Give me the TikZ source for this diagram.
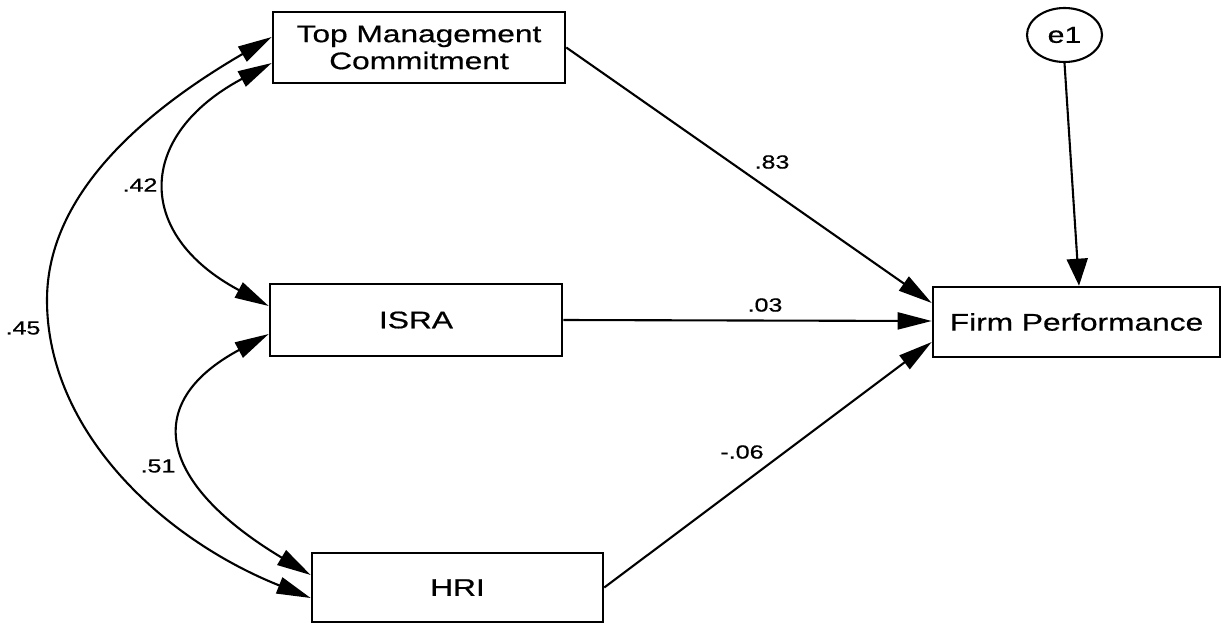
\documentclass[tikz,border=0pt]{standalone}
\usepackage{fontspec}
\setmainfont{Liberation Sans}[FakeStretch=1.32,FakeBold=0.6]
\usetikzlibrary{arrows.meta,calc,shapes.geometric}
\begin{document}
\begin{tikzpicture}[x=1pt,y=-1pt,
  box/.style={draw,line width=2.6pt,inner sep=0pt,font=\fontsize{24}{27}\selectfont,align=center},
  lbl/.style={inner sep=0pt,font=\fontsize{19}{20}\selectfont},
  arr/.style={line width=2.1pt,-{Triangle[length=34pt,width=17pt]}},
  dbl/.style={line width=2.1pt,{Triangle[length=34pt,width=17pt]}-{Triangle[length=34pt,width=17pt]}},
  varr/.style={line width=2.1pt,-{Triangle[length=27pt,width=21pt]}},
]
\useasboundingbox (0,0) rectangle (1222,624);

% nodes
\node[box,minimum width=292pt,minimum height=71pt] (tmc) at (419,47.5) {Top Management\\Commitment};
\node[box,minimum width=292pt,minimum height=72pt] (isra) at (416,320) {ISRA};
\node[box,minimum width=291pt,minimum height=69pt] (hri) at (457.5,587.5) {HRI};
\node[box,minimum width=287pt,minimum height=70pt] (fp) at (1076.5,322) {Firm Performance};
\node[draw,ellipse,line width=2.1pt,inner sep=0pt,minimum width=75pt,minimum height=54pt,font=\fontsize{23}{25}\selectfont] (e1) at (1064.5,35) {e1};

% anchor points
\coordinate (tmcA) at ($(tmc.west)+(0,-10.5)$);
\coordinate (tmcB) at ($(tmc.west)+(0,15.5)$);
\coordinate (israA) at ($(isra.west)+(0,-14)$);
\coordinate (israB) at ($(isra.west)+(0,14)$);
\coordinate (hriA) at ($(hri.west)+(0,-12.5)$);
\coordinate (hriB) at ($(hri.west)+(0,10.5)$);
\coordinate (fpA) at ($(fp.west)+(0,-19)$);
\coordinate (fpB) at ($(fp.west)+(0,-1)$);
\coordinate (fpC) at ($(fp.west)+(0,20)$);
\coordinate (fpTop) at ($(fp.north)+(2.5,0)$);
\coordinate (m45) at (47,300);

% paths to firm performance
\draw[arr] (tmc.east) -- (fpA);
\draw[arr] (isra.east) -- (fpB);
\draw[arr] (hri.east) -- (fpC);
\draw[varr] (e1.south) -- (fpTop);

% covariances
\draw[dbl] (tmcB) .. controls ($(tmcB)+(-135,72)$) and ($(israA)+(-135,-72)$) .. (israA);
\draw[dbl] (israB) .. controls ($(israB)+(-130,70)$) and ($(hriA)+(-150,-90)$) .. (hriA);
\draw[line width=2.1pt,{Triangle[length=34pt,width=17pt]}-] (tmcA) .. controls ($(tmcA)+(-120,70)$) and ($(m45)+(0,-110)$) .. (m45);
\draw[line width=2.1pt,-{Triangle[length=34pt,width=17pt]}] (m45) .. controls ($(m45)+(0,130)$) and ($(hriB)+(-150,-60)$) .. (hriB);

% labels
\node[lbl] (l83) at (772,162) {.83};
\node[lbl] (l03) at (765,305) {.03};
\node[lbl] (l06) at (742,452) {-.06};
\node[lbl] (l42) at (140,185) {.42};
\node[lbl] (l45) at (23,328) {.45};
\node[lbl] (l51) at (158,466) {.51};
\end{tikzpicture}
\end{document}
